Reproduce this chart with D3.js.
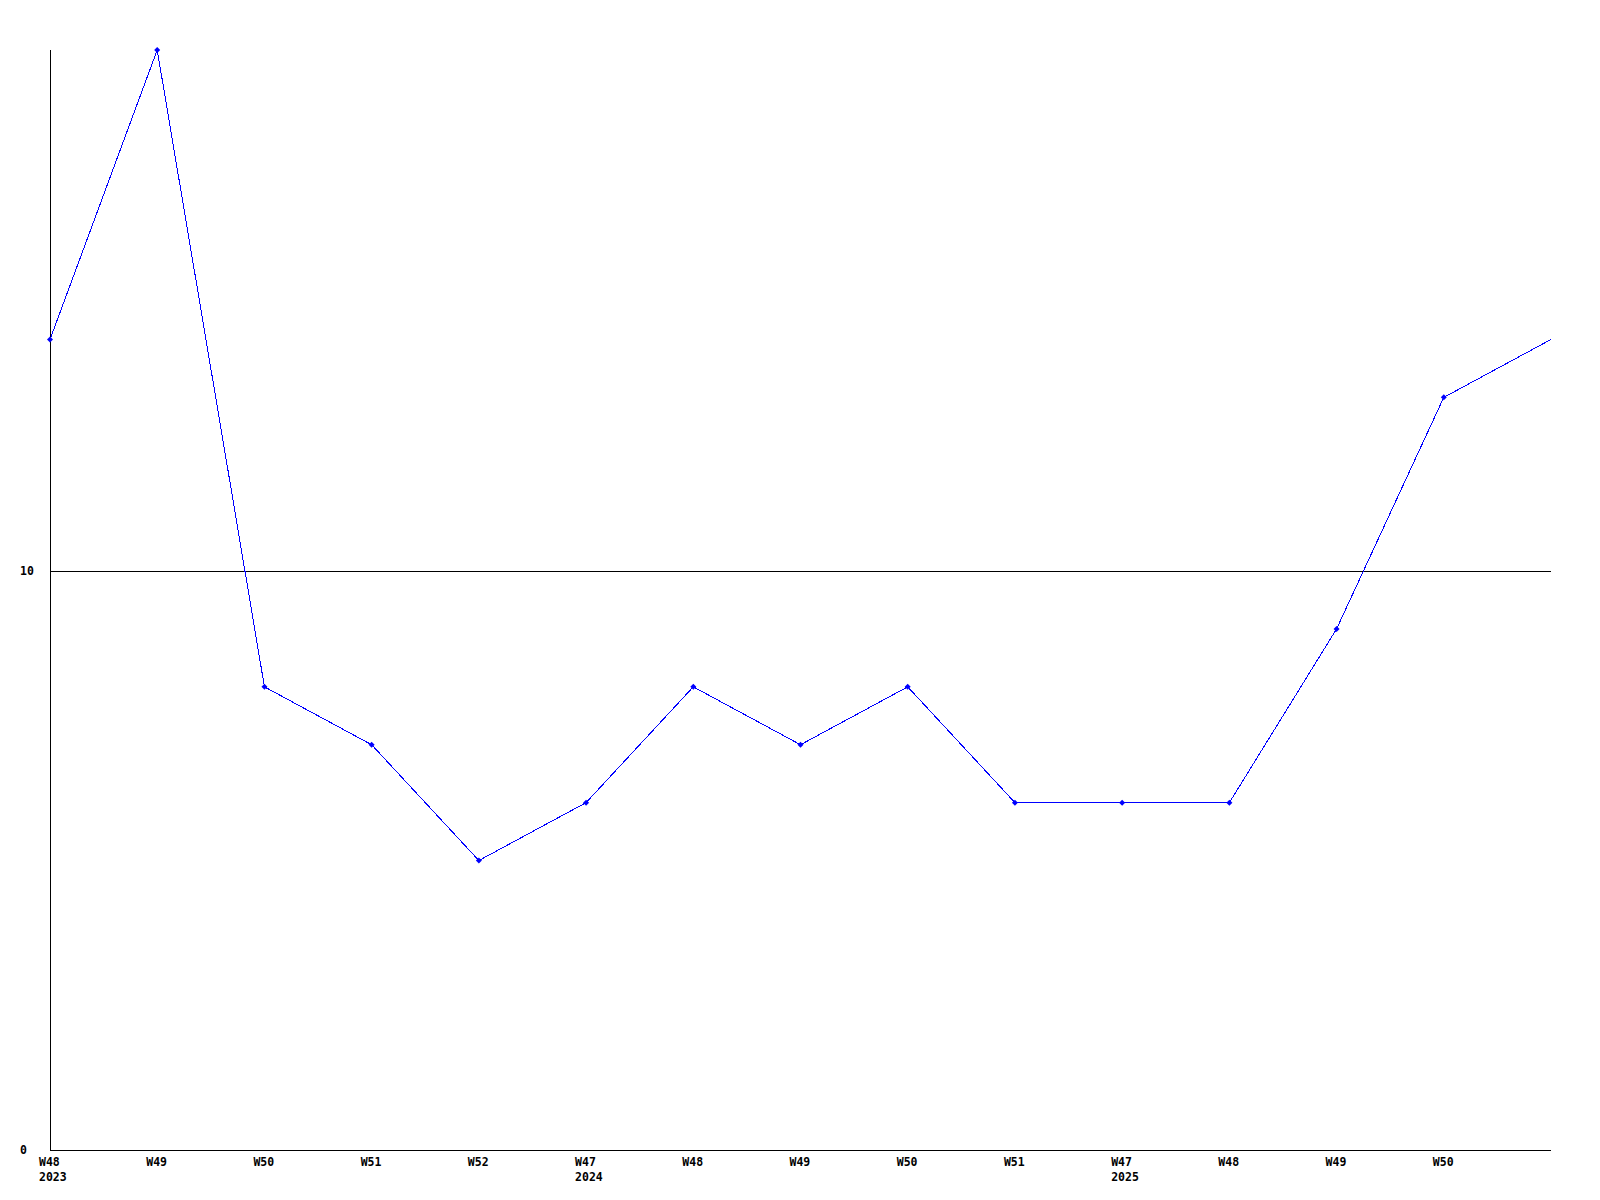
<!DOCTYPE html>
<html>
<head>
<meta charset="utf-8">
<script src="https://cdn.jsdelivr.net/npm/d3@7"></script>
<style>
  body { margin: 0; background: #fff; }
  text { font-family: "DejaVu Sans Mono", monospace; font-size: 11.5px; font-weight: bold; }
</style>
</head>
<body>
<svg id="chart" width="1600" height="1200"></svg>
<script>
// weekly values, one per tick (last point sits on the right edge, unlabelled)
var weekLabels = ["W48", "W49", "W50", "W51", "W52", "W47", "W48", "W49", "W50", "W51", "W47", "W48", "W49", "W50", ""];
var yearLabels = ["2023", "", "", "", "", "2024", "", "", "", "", "2025", "", "", "", ""];
var values = [14, 19, 8, 7, 5, 6, 8, 7, 8, 6, 6, 6, 9, 13, 14];
var yTicks = [0, 10];

var svg = d3.select("#chart");

var x = d3.scalePoint()
    .domain(d3.range(values.length))
    .range([50, 1551]);

var y = d3.scaleLinear()
    .domain([0, 19])
    .range([1150, 50]);

// axes frame
svg.append("line")
    .attr("x1", 50.5).attr("x2", 50.5)
    .attr("y1", y(19)).attr("y2", y(0))
    .attr("stroke", "black").attr("shape-rendering", "crispEdges");

yTicks.forEach(function (t) {
    svg.append("line")
        .attr("x1", 50).attr("x2", 1551)
        .attr("y1", Math.round(y(t)) + 0.5).attr("y2", Math.round(y(t)) + 0.5)
        .attr("stroke", "black").attr("shape-rendering", "crispEdges");
    svg.append("text")
        .attr("x", 20)
        .attr("y", y(t) + 4)
        .text(t);
});

// x labels
var xl = svg.append("g");
xl.selectAll(".wk")
    .data(weekLabels).enter()
    .append("text")
    .attr("class", "wk")
    .attr("x", function (d, i) { return x(i) - 11; })
    .attr("y", 1166)
    .text(function (d) { return d; });
xl.selectAll(".yr")
    .data(yearLabels).enter()
    .append("text")
    .attr("class", "yr")
    .attr("x", function (d, i) { return x(i) - 11; })
    .attr("y", 1181)
    .text(function (d) { return d; });

// the series
var line = d3.line()
    .x(function (d, i) { return x(i); })
    .y(function (d) { return y(d); });

svg.append("path")
    .datum(values)
    .attr("d", line)
    .attr("fill", "none")
    .attr("stroke", "#0000ff")
    .attr("stroke-width", 1)
    .attr("shape-rendering", "crispEdges");

// small markers, the last point has none
svg.selectAll(".pt")
    .data(values.slice(0, values.length - 1)).enter()
    .append("path")
    .attr("class", "pt")
    .attr("transform", function (d, i) { return "translate(" + x(i) + "," + y(d) + ")"; })
    .attr("d", "M-3,0L0,-3L3,0L0,3Z")
    .attr("fill", "#0000ff");
</script>
</body>
</html>
